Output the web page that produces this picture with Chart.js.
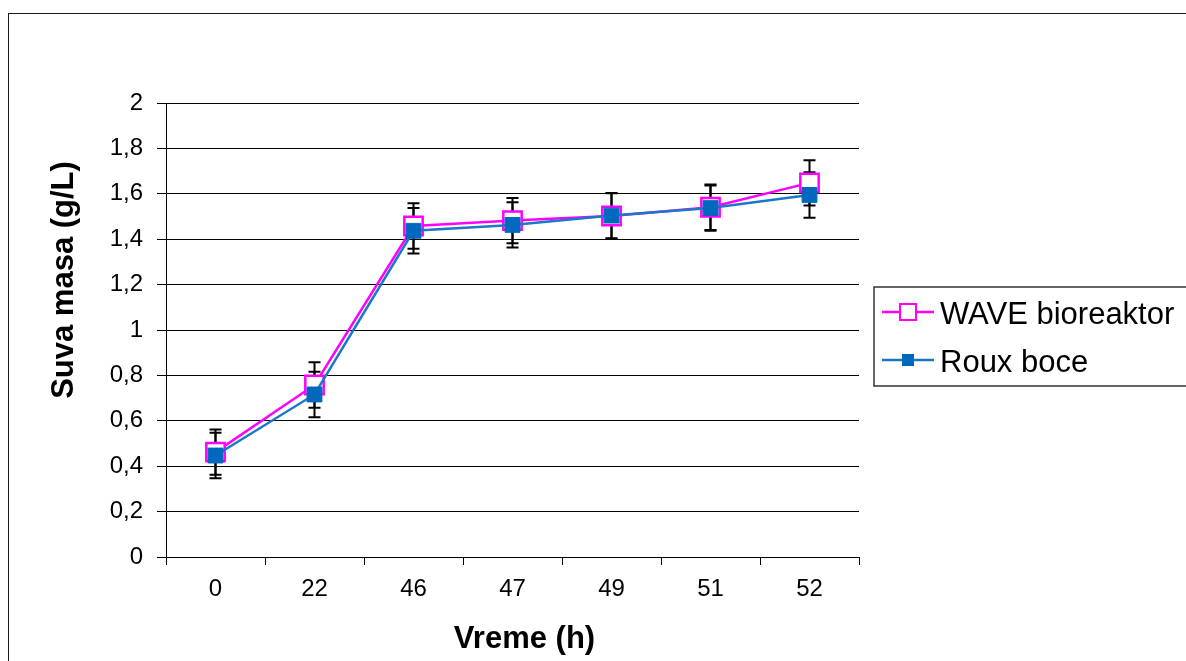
<!DOCTYPE html>
<html>
<head>
<meta charset="utf-8">
<script src="https://cdn.jsdelivr.net/npm/chart.js@4.4.1/dist/chart.umd.min.js"></script>
<style>
  html, body { margin: 0; padding: 0; background: #fff; overflow: hidden; }
  #frame { position: absolute; left: 8px; top: 13px; width: 1400px; height: 900px; border: 1.5px solid #1a1a1a; }
  #myChart { position: absolute; left: 0; top: 0; }
</style>
</head>
<body>
<div id="frame"></div>
<canvas id="myChart" width="1186" height="661"></canvas>
<script>
var categories = ["0", "22", "46", "47", "49", "51", "52"];
var waveValues = [0.462, 0.758, 1.458, 1.482, 1.502, 1.541, 1.648];
var waveErrors = [0.1, 0.1, 0.1, 0.1, 0.1, 0.1, 0.1];
var rouxValues = [0.447, 0.716, 1.437, 1.463, 1.504, 1.537, 1.595];
var rouxErrors = [0.1, 0.1, 0.1, 0.1, 0.1, 0.1, 0.1];
var yTickLabels = ["0", "0,2", "0,4", "0,6", "0,8", "1", "1,2", "1,4", "1,6", "1,8", "2"];

var FONT = "'Liberation Sans', Arial, sans-serif";
var PINK = "#ff00ff";
var BLUE_LINE = "#1a78c8";
var BLUE_MARK = "#0068bd";

// error bars, drawn under the markers
var errorBars = {
  id: "errorBars",
  beforeDatasetsDraw: function (chart) {
    var ctx = chart.ctx;
    var y = chart.scales.y;
    ctx.save();
    ctx.strokeStyle = "#000";
    ctx.lineWidth = 2;
    chart.data.datasets.forEach(function (ds, i) {
      var meta = chart.getDatasetMeta(i);
      meta.data.forEach(function (pt, j) {
        var v = ds.data[j], e = ds.errors[j];
        var top = y.getPixelForValue(v + e);
        var bot = y.getPixelForValue(v - e);
        ctx.beginPath();
        ctx.moveTo(pt.x, top); ctx.lineTo(pt.x, bot);
        ctx.moveTo(pt.x - 6, top); ctx.lineTo(pt.x + 6, top);
        ctx.moveTo(pt.x - 6, bot); ctx.lineTo(pt.x + 6, bot);
        ctx.stroke();
      });
    });
    ctx.restore();
  }
};

// axis titles and the legend box
var extras = {
  id: "extras",
  afterDraw: function (chart) {
    var ctx = chart.ctx;
    var a = chart.chartArea;
    ctx.save();
    ctx.fillStyle = "#000";
    ctx.textBaseline = "alphabetic";

    ctx.font = "bold 31px " + FONT;
    ctx.textAlign = "center";
    ctx.fillText("Vreme (h)", (a.left + a.right) / 2 + 12, chart.height - 13);

    ctx.save();
    ctx.translate(a.left - 93, a.top + 177);
    ctx.rotate(-Math.PI / 2);
    ctx.font = "bold 31px " + FONT;
    ctx.fillText("Suva masa (g/L)", 0, 0);
    ctx.restore();

    // legend
    var lx = a.right + 15, ly = 287;
    ctx.strokeStyle = "#333";
    ctx.lineWidth = 1.5;
    ctx.strokeRect(lx, ly, 400, 99);

    ctx.lineWidth = 2.5;
    ctx.strokeStyle = PINK;
    ctx.beginPath(); ctx.moveTo(lx + 8, 312); ctx.lineTo(lx + 60, 312); ctx.stroke();
    ctx.fillStyle = "#fff";
    ctx.fillRect(lx + 26, 304, 16, 16);
    ctx.lineWidth = 2;
    ctx.strokeRect(lx + 26, 304, 16, 16);

    ctx.lineWidth = 2.5;
    ctx.strokeStyle = BLUE_LINE;
    ctx.beginPath(); ctx.moveTo(lx + 8, 360); ctx.lineTo(lx + 60, 360); ctx.stroke();
    ctx.fillStyle = BLUE_MARK;
    ctx.fillRect(lx + 28, 354, 12, 12);

    ctx.fillStyle = "#000";
    ctx.textAlign = "left";
    ctx.font = "31px " + FONT;
    ctx.fillText("WAVE bioreaktor", lx + 66, 324);
    ctx.fillText("Roux boce", lx + 66, 372);
    ctx.restore();
  }
};

var ctx = document.getElementById("myChart").getContext("2d");

var myChart = new Chart(ctx, {
  type: "line",
  data: {
    labels: categories,
    datasets: [{
      label: "WAVE bioreaktor",
      data: waveValues,
      errors: waveErrors,
      borderColor: PINK,
      borderWidth: 2.5,
      backgroundColor: "#fff",
      pointStyle: "rect",
      pointRadius: 13,
      pointBorderWidth: 2.5,
      pointBackgroundColor: "#fff",
      pointBorderColor: PINK,
      tension: 0,
      order: 1
    },
    {
      label: "Roux boce",
      data: rouxValues,
      errors: rouxErrors,
      borderColor: BLUE_LINE,
      borderWidth: 2.5,
      backgroundColor: BLUE_MARK,
      pointStyle: "rect",
      pointRadius: 10.5,
      pointBorderWidth: 1,
      pointBackgroundColor: BLUE_MARK,
      pointBorderColor: BLUE_MARK,
      tension: 0,
      order: 0
    }]
  },
  options: {
    responsive: false,
    animation: false,
    layout: {
      padding: { top: 103, right: 327, bottom: 0, left: 0 }
    },
    scales: {
      x: {
        offset: true,
        grid: {
          offset: true,
          drawOnChartArea: false,
          tickLength: 8,
          color: "#000"
        },
        border: { color: "#000", width: 1 },
        ticks: {
          padding: 10,
          color: "#000",
          font: { family: FONT, size: 24 }
        },
        afterFit: function (scale) { scale.height = 104; }
      },
      y: {
        min: 0,
        max: 2,
        grid: {
          color: "#000",
          tickLength: 9
        },
        border: { color: "#000", width: 1 },
        ticks: {
          stepSize: 0.2,
          padding: 14,
          color: "#000",
          font: { family: FONT, size: 24 },
          callback: function (v, i) { return yTickLabels[i]; }
        },
        afterFit: function (scale) { scale.width = 166; }
      }
    },
    plugins: {
      legend: { display: false },
      tooltip: { enabled: false }
    }
  },
  plugins: [errorBars, extras]
});
</script>
</body>
</html>
